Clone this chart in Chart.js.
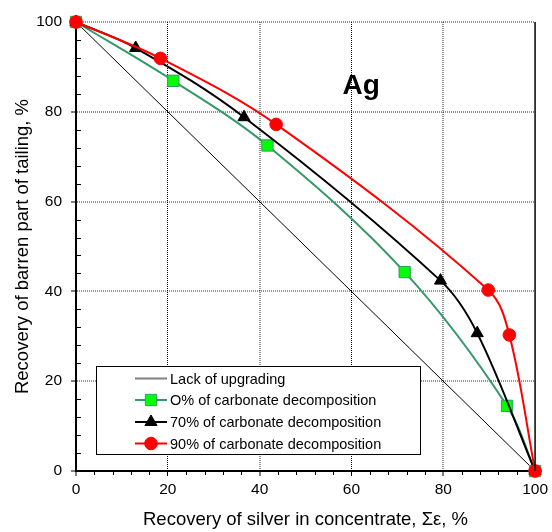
<!DOCTYPE html>
<html><head><meta charset="utf-8">
<script src="https://cdn.jsdelivr.net/npm/chart.js@4.4.1/dist/chart.umd.min.js"></script>
<style>html,body{margin:0;padding:0;background:#fff;}#wrap{width:552px;height:532px;}</style>
</head><body><div id="wrap"><canvas id="c" width="552" height="532"></canvas></div>
<script>
// ---- data ----
const seriesNames = ["Lack of upgrading", "O% of carbonate decomposition", "70% of carbonate decomposition", "90% of carbonate decomposition"];
const lackX = [0, 100];
const lackY = [100, 0];
const c0X = [0, 21.2, 41.7, 71.6, 93.9, 100];
const c0Y = [100, 86.9, 72.5, 44.3, 14.5, 0];
const c70X = [0, 13.0, 36.6, 79.4, 87.4, 100];
const c70Y = [100, 94.2, 78.8, 42.4, 30.7, 0];
const c90X = [0, 18.4, 43.6, 89.8, 94.4, 100];
const c90Y = [100, 91.9, 77.2, 40.3, 30.3, 0];
const xTickLabels = [0, 20, 40, 60, 80, 100];
const yTickLabels = [0, 20, 40, 60, 80, 100];
const chartLabel = "Ag";
const xTitle = "Recovery of silver in concentrate, \u03A3\u03B5, %";
const yTitle = "Recovery of barren part of tailing, %";

const pts = (xs, ys) => xs.map((x, i) => ({x: x, y: ys[i]}));
const FONT = "'Liberation Sans', Arial, sans-serif";
const GREEN = '#339966', LIME = '#00ff00', RED = '#ff0000';

const datasets = [
  {label: seriesNames[0], data: pts(lackX, lackY), borderColor: '#000', borderWidth: 1, pointRadius: 0, tension: 0, order: 4, _legendColor: '#808080'},
  {label: seriesNames[1], data: pts(c0X, c0Y), borderColor: GREEN, borderWidth: 2, pointStyle: 'rect', pointRadius: 8, pointBackgroundColor: LIME, pointBorderColor: GREEN, pointBorderWidth: 1, tension: 0.35, order: 3},
  {label: seriesNames[2], data: pts(c70X, c70Y), borderColor: '#000', borderWidth: 2, pointStyle: 'triangle', pointRadius: 7, pointBackgroundColor: '#000', pointBorderColor: '#000', pointBorderWidth: 1, tension: 0.35, order: 2},
  {label: seriesNames[3], data: pts(c90X, c90Y), borderColor: RED, borderWidth: 2, pointStyle: 'circle', pointRadius: 6.3, pointBackgroundColor: RED, pointBorderColor: RED, pointBorderWidth: 1, tension: 0.35, order: 1}
];
datasets.forEach(d => { d.showLine = true; d.clip = false; d.fill = false; });

function drawMarker(ctx, style, x, y, r, fill, stroke) {
  ctx.save();
  ctx.fillStyle = fill; ctx.strokeStyle = stroke; ctx.lineWidth = 1;
  ctx.beginPath();
  if (style === 'rect') { const s = r * Math.SQRT1_2; ctx.rect(x - s, y - s, 2 * s, 2 * s); }
  else if (style === 'triangle') {
    ctx.moveTo(x, y - r);
    ctx.lineTo(x + r * Math.sin(2 * Math.PI / 3), y - r * Math.cos(2 * Math.PI / 3));
    ctx.lineTo(x + r * Math.sin(4 * Math.PI / 3), y - r * Math.cos(4 * Math.PI / 3));
    ctx.closePath();
  } else { ctx.arc(x, y, r, 0, Math.PI * 2); }
  ctx.fill(); ctx.stroke();
  ctx.restore();
}

const decor = {
  id: 'decor',
  afterDraw(chart) {
    const ctx = chart.ctx, ca = chart.chartArea;
    const xs = chart.scales.x, ys = chart.scales.y;
    ctx.save();
    // minor ticks
    ctx.strokeStyle = '#000'; ctx.lineWidth = 1;
    for (let v = 4; v < 100; v += 4) {
      if (v % 20 === 0) continue;
      const px = Math.round(xs.getPixelForValue(v)) + 0.5;
      ctx.beginPath(); ctx.moveTo(px, ca.bottom); ctx.lineTo(px, ca.bottom + 4); ctx.stroke();
      const py = Math.round(ys.getPixelForValue(v)) + 0.5;
      ctx.beginPath(); ctx.moveTo(ca.left, py); ctx.lineTo(ca.left + 5, py); ctx.stroke();
    }
    // right frame
    ctx.lineWidth = 1.5;
    const rx = xs.getPixelForValue(100);
    ctx.beginPath(); ctx.moveTo(rx, ys.getPixelForValue(100)); ctx.lineTo(rx, ys.getPixelForValue(0)); ctx.stroke();
    // Ag label
    ctx.fillStyle = '#000';
    ctx.font = "bold 28px " + FONT;
    ctx.textAlign = 'center'; ctx.textBaseline = 'alphabetic';
    ctx.fillText(chartLabel, xs.getPixelForValue(62.1), ys.getPixelForValue(84));
    // legend
    const bx = ca.left + 20.5, by = ca.top + 344.5, bw = 324, bh = 88;
    ctx.fillStyle = '#fff'; ctx.fillRect(bx, by, bw, bh);
    ctx.strokeStyle = '#000'; ctx.lineWidth = 1; ctx.strokeRect(bx, by, bw, bh);
    const rows = [12, 33.5, 55.5, 77];
    ctx.font = "14.5px " + FONT; ctx.textAlign = 'left'; ctx.textBaseline = 'middle';
    datasets.forEach((d, i) => {
      const y = by + rows[i];
      const lx0 = bx + 38.5, lx1 = bx + 70.5, mx = bx + 54.5;
      ctx.strokeStyle = d._legendColor || d.borderColor;
      ctx.lineWidth = i === 0 ? 2 : d.borderWidth;
      ctx.beginPath(); ctx.moveTo(lx0, y); ctx.lineTo(lx1, y); ctx.stroke();
      if (d.pointRadius > 0) drawMarker(ctx, d.pointStyle, mx, y, d.pointRadius, d.pointBackgroundColor, d.pointBorderColor);
      ctx.fillStyle = '#000';
      ctx.fillText(d.label, bx + 73.5, y + 1);
    });
    ctx.restore();
  }
};

const gridDash = [1, 1];
new Chart(document.getElementById('c'), {
  type: 'scatter',
  data: {datasets: datasets},
  options: {
    responsive: false, animation: false, devicePixelRatio: 1,
    layout: {padding: {left: 0, right: 14, top: 22, bottom: 0}},
    plugins: {legend: {display: false}, tooltip: {enabled: false}},
    scales: {
      x: {
        type: 'linear', min: 0, max: 100,
        afterFit(s) { s.height = 61; },
        border: {display: true, color: '#000', width: 2, dash: gridDash},
        grid: {
          lineWidth: ctx => (ctx.tick && (ctx.tick.value === 20 || ctx.tick.value === 60)) ? 1 : 2,
          color: ctx => {
            const v = ctx.tick ? ctx.tick.value : -1;
            if (v <= 0 || v >= 100 || v % 20 !== 0) return 'rgba(0,0,0,0)';
            return (v === 20 || v === 60) ? '#000' : 'rgba(0,0,0,0.42)';
          },
          tickColor: ctx => (ctx.tick && ctx.tick.value % 20 === 0) ? '#000' : 'rgba(0,0,0,0)',
          tickWidth: 1, tickLength: 5, drawTicks: true
        },
        ticks: {
          stepSize: 4, autoSkip: false, maxRotation: 0, padding: 4, color: '#000',
          font: {family: FONT, size: 15.5},
          callback: v => xTickLabels.includes(v) ? String(v) : ''
        },
        title: {display: true, text: xTitle, color: '#000', font: {family: FONT, size: 18.5}, padding: {top: 0, bottom: 1}}
      },
      y: {
        type: 'linear', min: 0, max: 100,
        afterFit(s) { s.width = 76; },
        border: {display: true, color: '#000', width: 2, dash: gridDash},
        grid: {
          lineWidth: 2,
          color: ctx => {
            const v = ctx.tick ? ctx.tick.value : -1;
            if (v <= 0 || v % 20 !== 0) return 'rgba(0,0,0,0)';
            return 'rgba(0,0,0,0.42)';
          },
          tickColor: ctx => (ctx.tick && ctx.tick.value % 20 === 0) ? '#000' : 'rgba(0,0,0,0)',
          tickWidth: 1, tickLength: 5, drawTicks: true
        },
        ticks: {
          stepSize: 4, autoSkip: false, padding: 9, color: '#000',
          font: {family: FONT, size: 15.5},
          callback: v => yTickLabels.includes(v) ? String(v) : ''
        },
        title: {display: true, text: yTitle, color: '#000', font: {family: FONT, size: 18.5}, padding: {top: 12, bottom: 0}}
      }
    }
  },
  plugins: [decor]
});
</script>
</body></html>
